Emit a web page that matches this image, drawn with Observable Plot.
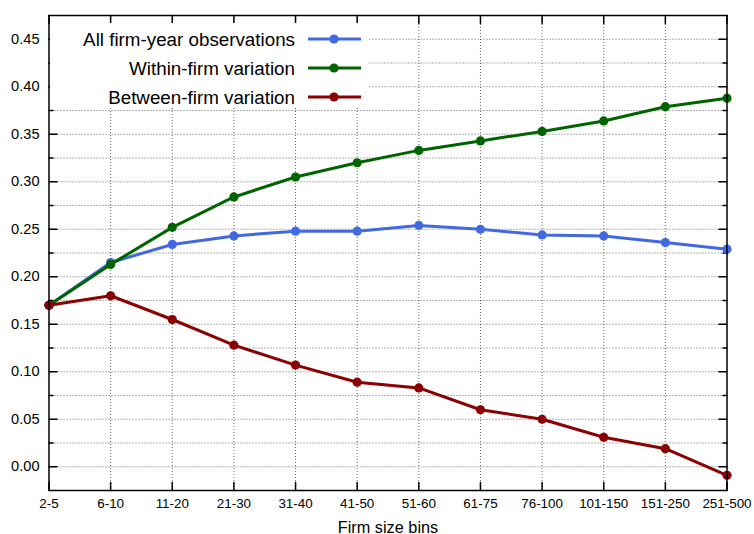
<!DOCTYPE html>
<html>
<head>
<meta charset="utf-8">
<script src="https://cdn.jsdelivr.net/npm/d3@7"></script>
<script src="https://cdn.jsdelivr.net/npm/@observablehq/plot@0.6"></script>
<style>
  html, body { margin: 0; padding: 0; background: #fff; }
  #wrap { position: relative; width: 754px; height: 534px; font-family: "Liberation Sans", Arial, sans-serif; }
  #wrap > svg { display: block; }
  #legend { position: absolute; left: 50px; top: 23px; width: 318px; height: 85px; background: #fff; }
</style>
</head>
<body>
<div id="wrap"><div id="legend"></div></div>
<script>
const categories = ["2-5","6-10","11-20","21-30","31-40","41-50","51-60","61-75","76-100","101-150","151-250","251-500"];
const allObs  = [0.170, 0.215, 0.234, 0.243, 0.248, 0.248, 0.254, 0.250, 0.244, 0.243, 0.236, 0.229];
const within  = [0.170, 0.213, 0.252, 0.284, 0.305, 0.320, 0.333, 0.343, 0.353, 0.364, 0.379, 0.388];
const between = [0.170, 0.180, 0.155, 0.128, 0.107, 0.089, 0.083, 0.060, 0.050, 0.031, 0.019, -0.009];
const seriesNames = ["All firm-year observations", "Within-firm variation", "Between-firm variation"];
const seriesColors = ["#4169e1", "#006400", "#8b0000"];
const yTicks = [0, 0.05, 0.10, 0.15, 0.20, 0.25, 0.30, 0.35, 0.40, 0.45];
const yMinor = [0.025, 0.075, 0.125, 0.175, 0.225, 0.275, 0.325, 0.375, 0.425];
const yDomain = [-0.025, 0.475];
const xLabel = "Firm size bins";

const seriesValues = [allObs, within, between];
const rows = [];
seriesValues.forEach((vals, s) => vals.forEach((v, i) => rows.push({cat: categories[i], value: v, series: seriesNames[s]})));

const tickShape = { draw(context, l) { context.moveTo(0, 0); context.lineTo(0, -l); } };
const first = categories[0], last = categories[categories.length - 1];
const innerCats = categories.slice(1, -1);
const font = "'Liberation Sans', Arial, sans-serif";

const lineMarks = [];
seriesNames.forEach((name, s) => {
  const d = rows.filter(r => r.series === name);
  lineMarks.push(Plot.line(d, {x: "cat", y: "value", stroke: seriesColors[s], strokeWidth: 3}));
  lineMarks.push(Plot.dot(d, {x: "cat", y: "value", fill: seriesColors[s], r: 4.6}));
});

const chart = Plot.plot({
  width: 754,
  height: 534,
  marginLeft: 48.5,
  marginRight: 27.5,
  marginTop: 15,
  marginBottom: 44,
  style: {fontFamily: font, fontSize: "14px", color: "#000", background: "#fff"},
  x: {type: "point", domain: categories, padding: 0, round: false, inset: 0},
  y: {domain: yDomain},
  marks: [
    Plot.ruleY(yTicks.concat(yMinor), {stroke: "#000", strokeOpacity: 0.6, strokeDasharray: "1,2"}),
    Plot.ruleX(innerCats, {x: d => d, stroke: "#000", strokeOpacity: 0.6, strokeDasharray: "1,2"}),
    // inward tick marks
    Plot.vector(yTicks, {x: () => first, y: d => d, rotate: 90, length: 8, anchor: "start", shape: tickShape, stroke: "#000"}),
    Plot.vector(yTicks, {x: () => last, y: d => d, rotate: -90, length: 8, anchor: "start", shape: tickShape, stroke: "#000"}),
    Plot.vector(yMinor, {x: () => first, y: d => d, rotate: 90, length: 4, anchor: "start", shape: tickShape, stroke: "#000"}),
    Plot.vector(yMinor, {x: () => last, y: d => d, rotate: -90, length: 4, anchor: "start", shape: tickShape, stroke: "#000"}),
    Plot.vector(categories, {x: d => d, y: () => yDomain[0], rotate: 0, length: 8, anchor: "start", shape: tickShape, stroke: "#000"}),
    Plot.vector(categories, {x: d => d, y: () => yDomain[1], rotate: 180, length: 8, anchor: "start", shape: tickShape, stroke: "#000"}),
    Plot.axisY(yTicks, {tickSize: 0, tickPadding: 9.5, tickFormat: d3.format(".2f"), label: null, fontSize: 14.6}),
    Plot.axisX({tickSize: 0, tickPadding: 8, label: null, fontSize: 13.4}),
    Plot.text([xLabel], {frameAnchor: "bottom", text: d => d, dy: 42, lineAnchor: "bottom", fontSize: 16.3}),
    ...lineMarks,
    Plot.frame({stroke: "#000", strokeWidth: 1.5})
  ]
});
const wrap = document.getElementById("wrap");
wrap.insertBefore(chart, wrap.firstChild);

// legend
const ns = "http://www.w3.org/2000/svg";
const lsvg = document.createElementNS(ns, "svg");
lsvg.setAttribute("width", 318); lsvg.setAttribute("height", 85);
seriesNames.forEach((name, i) => {
  const cy = 16 + i * 29;
  const t = document.createElementNS(ns, "text");
  t.setAttribute("x", 245); t.setAttribute("y", cy); t.setAttribute("text-anchor", "end");
  t.setAttribute("dominant-baseline", "central");
  t.setAttribute("font-size", "18.8"); t.setAttribute("font-family", font);
  t.textContent = name;
  lsvg.appendChild(t);
  const ln = document.createElementNS(ns, "line");
  ln.setAttribute("x1", 258); ln.setAttribute("x2", 311); ln.setAttribute("y1", cy); ln.setAttribute("y2", cy);
  ln.setAttribute("stroke", seriesColors[i]); ln.setAttribute("stroke-width", 3);
  lsvg.appendChild(ln);
  const c = document.createElementNS(ns, "circle");
  c.setAttribute("cx", 284); c.setAttribute("cy", cy); c.setAttribute("r", 4.6); c.setAttribute("fill", seriesColors[i]);
  lsvg.appendChild(c);
});
document.getElementById("legend").appendChild(lsvg);
</script>
</body>
</html>
